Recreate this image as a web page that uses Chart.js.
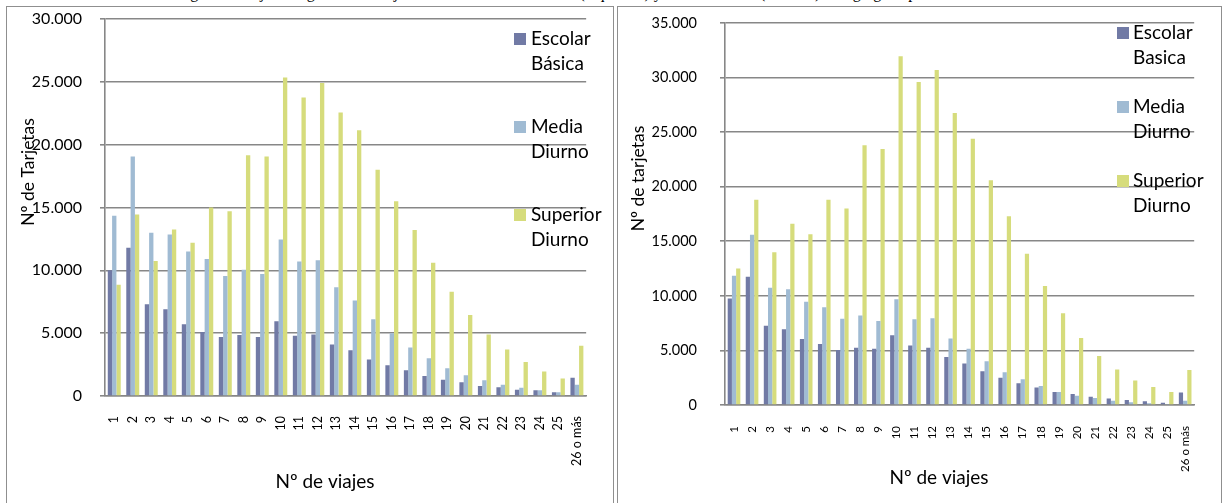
<!DOCTYPE html>
<html>
<head>
<meta charset="utf-8">
<script src="https://cdn.jsdelivr.net/npm/chart.js@4.4.1/dist/chart.umd.min.js"></script>
<style>
  html, body { margin: 0; padding: 0; background: #fff; }
  body { position: relative; width: 1223px; height: 503px; overflow: hidden; }
  .caption {
    position: absolute; left: 0; top: -15px; width: 1223px; text-align: center;
    font-family: "Liberation Serif", "Times New Roman", serif; font-size: 16px;
    line-height: 16px; white-space: nowrap; color: #000;
  }
  .box { position: absolute; top: 6px; height: 520px; box-sizing: border-box;
         border: 1.5px solid #8f8f8f; background: #fff; }
  #boxIzq { left: 6px; width: 608px; }
  #boxDer { left: 617px; width: 605px; }
  canvas { position: absolute; }
  #graficoIzq { left: 8px; top: 8px; }
  #graficoDer { left: 620px; top: 8px; }
</style>
</head>
<body>
<div class="caption">Figura 3: Tarjetas según Nº de viajes semanales de estudiantes (izquierda) y de estudiantes (derecha) desagregado por nivel educacional</div>
<div class="box" id="boxIzq"></div>
<div class="box" id="boxDer"></div>
<canvas id="graficoIzq" width="604" height="495"></canvas>
<canvas id="graficoDer" width="600" height="495"></canvas>
<script>
// Number of trips per card
const viajes = ['1','2','3','4','5','6','7','8','9','10','11','12','13','14','15','16','17','18','19','20','21','22','23','24','25','26 o más'];

// Left panel: cards per student type
const escolarIzq  = [10000, 11800, 7300, 6900, 5700, 5100, 4700, 4850, 4700, 5950, 4800, 4900, 4100, 3650, 2900, 2450, 2050, 1600, 1300, 1100, 800, 700, 500, 450, 300, 1450];
const mediaIzq    = [14350, 19050, 13000, 12850, 11500, 10900, 9550, 10050, 9700, 12450, 10700, 10800, 8650, 7600, 6100, 5000, 3850, 3000, 2200, 1650, 1250, 900, 650, 450, 300, 900];
const superiorIzq = [8850, 14450, 10750, 13250, 12200, 15000, 14700, 19150, 19050, 25350, 23750, 24900, 22550, 21150, 18000, 15500, 13200, 10600, 8300, 6450, 4900, 3700, 2700, 1950, 1400, 4000];

// Right panel: cards per student type
const escolarDer  = [9750, 11750, 7250, 6950, 6050, 5600, 5050, 5250, 5150, 6400, 5450, 5250, 4400, 3800, 3100, 2500, 2000, 1600, 1200, 1000, 750, 600, 450, 350, 200, 1150];
const mediaDer    = [11850, 15600, 10750, 10600, 9450, 8950, 7900, 8200, 7700, 9700, 7850, 7950, 6100, 5150, 4000, 3000, 2350, 1750, 1200, 850, 650, 400, 250, 150, 100, 400];
const superiorDer = [12500, 18800, 14000, 16600, 15650, 18800, 18000, 23800, 23450, 31950, 29600, 30700, 26750, 24400, 20600, 17300, 13850, 10900, 8400, 6150, 4500, 3250, 2250, 1650, 1200, 3200];

// Series names (one entry per legend line)
const nombresIzq = [['Escolar', 'Básica'], ['Media', 'Diurno'], ['Superior', 'Diurno']];
const nombresDer = [['Escolar', 'Basica'], ['Media', 'Diurno'], ['Superior', 'Diurno']];

// Y tick labels
const ticksIzq = ['0', '5.000', '10.000', '15.000', '20.000', '25.000', '30.000'];
const ticksDer = ['0', '5.000', '10.000', '15.000', '20.000', '25.000', '30.000', '35.000'];

const colores = ['#717aa5', '#a0bbd3', '#d6dc7c'];
const gris = '#878787';
const fuente = 'Lato, "Open Sans", sans-serif';

// Draws the axis titles and the stacked legend over the plot area
const panelText = {
  id: 'panelText',
  afterDraw(chart, args, opts) {
    const ctx = chart.ctx;
    ctx.save();
    ctx.fillStyle = '#000';
    ctx.textAlign = 'center';
    ctx.textBaseline = 'middle';
    // vertical axis title
    ctx.font = opts.yTitle.size + 'px ' + fuente;
    ctx.save();
    ctx.translate(opts.yTitle.x, opts.yTitle.y);
    ctx.rotate(-Math.PI / 2);
    ctx.fillText(opts.yTitle.text, 0, 0);
    ctx.restore();
    // horizontal axis title
    ctx.font = opts.xTitle.size + 'px ' + fuente;
    ctx.fillText(opts.xTitle.text, opts.xTitle.x, opts.xTitle.y);
    // legend
    const lg = opts.legend;
    ctx.font = lg.font + 'px ' + fuente;
    ctx.textAlign = 'left';
    chart.data.datasets.forEach((ds, i) => {
      const cy = lg.y + i * lg.spacing;
      ctx.fillStyle = ds.backgroundColor;
      ctx.fillRect(lg.boxX, cy - lg.box / 2, lg.box, lg.box);
      ctx.fillStyle = '#000';
      const lineas = Array.isArray(ds.label) ? ds.label : [ds.label];
      lineas.forEach((t, j) => ctx.fillText(t, lg.textX, cy + j * lg.lineGap));
    });
    ctx.restore();
  }
};

function construir(id, series, nombres, cfg) {
  return new Chart(document.getElementById(id), {
    type: 'bar',
    data: {
      labels: viajes,
      datasets: series.map((d, i) => ({
        label: nombres[i], data: d, backgroundColor: colores[i], borderWidth: 0
      }))
    },
    options: {
      responsive: false,
      animation: false,
      layout: { padding: { left: 0, top: cfg.padTop, right: cfg.padRight, bottom: 0 } },
      datasets: { bar: { categoryPercentage: 0.7, barPercentage: 1.0 } },
      plugins: {
        legend: { display: false },
        tooltip: { enabled: false },
        panelText: cfg.textos
      },
      scales: {
        x: {
          grid: { display: false, drawTicks: false },
          border: { display: true, color: gris, width: 1.5 },
          ticks: {
            autoSkip: false, maxRotation: 90, minRotation: 90,
            padding: cfg.xPad, color: '#000',
            font: { family: fuente, size: cfg.xFont }
          },
          afterFit: s => { s.height = cfg.xHeight; }
        },
        y: {
          min: 0, max: cfg.max,
          ticks: {
            stepSize: 5000, padding: cfg.yPad, color: '#000',
            font: { family: fuente, size: cfg.yFont },
            callback: (v, i) => cfg.yLabels[i]
          },
          grid: { color: gris, lineWidth: 1.6, tickLength: 5, drawTicks: true },
          border: { display: true, color: gris, width: 1.6 },
          afterFit: s => {
            s.width = cfg.yWidth;
            // let the layout padding alone fix the top of the plot
            s.paddingTop = 0;
            s.paddingBottom = 0;
          }
        }
      }
    },
    plugins: [panelText]
  });
}

construir('graficoIzq', [escolarIzq, mediaIzq, superiorIzq], nombresIzq, {
  max: 30000, yLabels: ticksIzq,
  padTop: 11, padRight: 5, yWidth: 97, xHeight: 107,
  xPad: 20, yPad: 18, xFont: 12.5, yFont: 16,
  textos: {
    yTitle: { text: 'Nº de Tarjetas', x: 20, y: 164, size: 17.5 },
    xTitle: { text: 'Nº de viajes', x: 317, y: 474, size: 19 },
    legend: { font: 19, box: 12, boxX: 506, textX: 523, y: 31, spacing: 88, lineGap: 25 }
  }
});

construir('graficoDer', [escolarDer, mediaDer, superiorDer], nombresDer, {
  max: 35000, yLabels: ticksDer,
  padTop: 15, padRight: 2, yWidth: 105, xHeight: 98,
  xPad: 21, yPad: 23, xFont: 11.5, yFont: 14.5,
  textos: {
    yTitle: { text: 'Nº de tarjetas', x: 18.5, y: 170.5, size: 17.5 },
    xTitle: { text: 'Nº de viajes', x: 319, y: 470, size: 19 },
    legend: { font: 19, box: 12, boxX: 497, textX: 513, y: 25, spacing: 74, lineGap: 25 }
  }
});
</script>
</body>
</html>
